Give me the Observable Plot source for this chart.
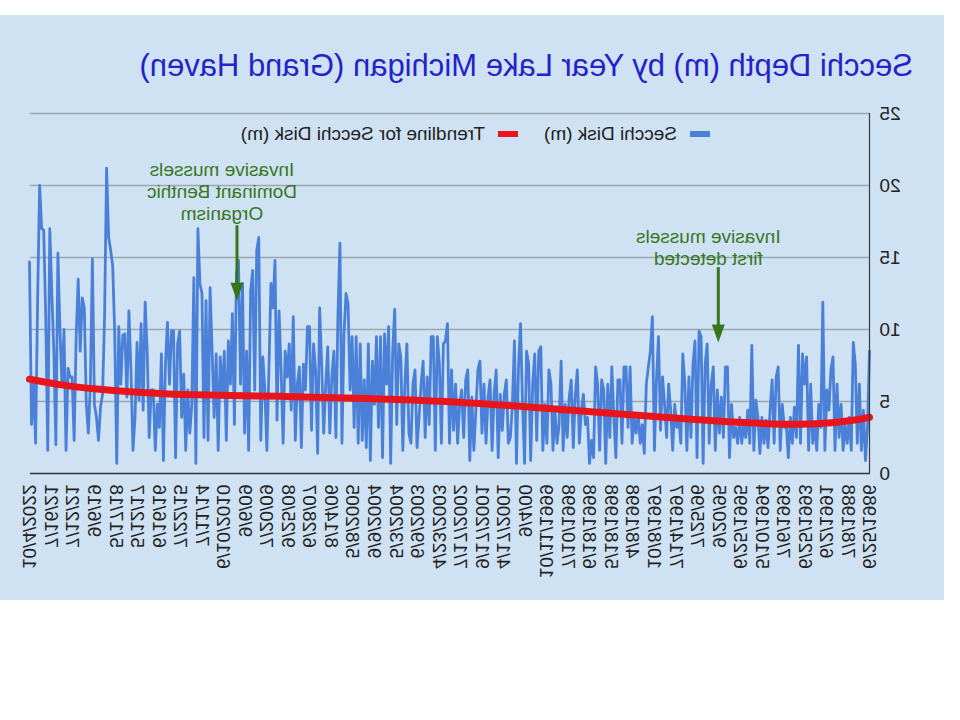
<!DOCTYPE html>
<html>
<head>
<meta charset="utf-8">
<script src="https://cdn.jsdelivr.net/npm/d3@7"></script>
<script src="https://cdn.jsdelivr.net/npm/@observablehq/plot@0.6"></script>
<style>
html, body { margin: 0; padding: 0; background: #ffffff; }
#flip { position: relative; width: 960px; height: 720px; transform: scaleX(-1); overflow: hidden; }
#bg { position: absolute; left: 16px; top: 15px; width: 944px; height: 585px; background: #cfe2f3;
      font-family: 'Liberation Sans', Arial, sans-serif; }
#chart { position: absolute; left: 0; top: 0; }
#title { position: absolute; left: 31px; top: 35px; font-size: 31px; line-height: 31px; color: #2323c8; white-space: nowrap; }
#legend { position: absolute; left: 234px; top: 107px; height: 24px; display: flex; align-items: center;
          font-size: 19px; color: #222; white-space: nowrap; }
#legend .sw { display: inline-block; width: 20px; height: 6px; margin-right: 13px; }
#legend .item { display: flex; align-items: center; margin-right: 26px; }
</style>
</head>
<body>
<div id="flip">
  <div id="bg">
    <div id="chart"></div>
    <div id="title"></div>
    <div id="legend"></div>
  </div>
</div>
<script>
// ---------- data ----------
const titleText = "Secchi Depth (m) by Year Lake Michigan (Grand Haven)";
const seriesNames = ["Secchi Disk (m)", "Trendline for Secchi Disk (m)"];
const seriesColors = ["#4a80d8", "#e8161c"];

// Secchi disk depth (m), listed newest sample first
const secchiNewestFirst = [
  14.7, 3.4, 6.2, 2.1, 12.1, 20, 17, 16.9, 10.9, 1.6, 17, 12.5, 8.5, 2, 15.3, 10, 6.2, 10, 1.6, 7.3,
  6.7, 6.7, 2.3, 9.5, 13.5, 8.5, 12.2, 11.5, 4.8, 2.8, 6.2, 14.9, 4.8, 3.9, 2.3, 4.6, 5.5, 10.9, 21.2, 16.4,
  15.5, 14.4, 9.8, 0.7, 10.2, 6.2, 9.6, 9.7, 5.3, 11.3, 7.2, 1.6, 3.9, 9.1, 5.1, 10.4, 4.4, 11.9, 8.5, 2.5,
  5.8, 5.8, 1.6, 4.8, 3.2, 8.3, 0.9, 7.6, 10.5, 6.2, 9.9, 9.9, 1.1, 9,
  9.9, 3.9, 6.9, 1.6, 5.8, 2.8, 4.8, 13.6, 0.7, 17, 13.2, 12.5, 2.5, 12, 2.3, 12.9, 8.5, 3.9, 8.3, 1.6,
  8.1, 5.3, 8.5, 2.3, 9.2, 6.2, 11.1, 3.4, 13.9, 14.8, 6.2, 13.2, 2.8, 8.5, 1.6, 12.7, 14.1, 5.8, 15.5, 16.4,
  2.3, 8.1, 5.8, 1.6, 7.2, 13.2, 11.5, 14.8, 3.7, 11.3, 7.2, 2.1, 8.5, 6.7, 9, 4.4, 10.9, 2.3, 6.2, 7.4,
  1.8, 7.6, 5.8, 10.2, 10.2, 3, 9, 7.2, 1.4, 11.5, 7.6, 2.8, 6.2, 8.8, 2.8, 6.7, 8.5, 2.5, 10.9, 16,
  2.1, 9.7, 12.5, 11.8, 5.8, 9.5, 3.2,
  9.5, 2.1, 9, 2.3, 6.5, 1.8, 9, 0.9, 7.8, 4.8, 9.5, 3.2, 9.5, 1.1, 9.7, 6.2, 10.2, 0.7, 8.5, 11.4,
  3.4, 9, 8.1, 1.6, 6.2, 9, 2.8, 2.1, 6.2, 7.2, 1.8, 3.9, 6.2, 7.8, 2.5, 6.7, 3.4, 9.5, 9.5, 1.6,
  9.5, 7.6, 2.1, 9, 9.2, 10.4, 2.1, 7.2, 3, 6.2, 2.1, 4.8, 5.8, 2.5, 6.5, 7.2, 0.9, 5.3, 1.6, 4.4,
  7.2, 7.8, 2.8, 6.2, 2.1, 5.3, 6.5, 1.6, 5.5, 7.2, 1.1, 5.5, 3, 5.5, 6.5, 2.1, 2.5, 4.8, 9.2, 0.7,
  7.4, 10.4, 4.8, 0.7, 8.5, 7.6, 0.9, 6.2,
  8.3, 2.3, 8.5, 8.8, 1.6, 4.8, 2.1, 7.2, 6.2, 1.6, 4.4, 2.1, 3.4, 7.8, 1.6, 4.8, 2.5, 5.3, 6.5, 1.8,
  5.5, 7.2, 2.1, 4.4, 5.5, 3.4, 3.9, 0.7, 2.3, 1.1, 7.4, 6.2, 1.6, 6.5, 5.8, 0.7, 6.2, 2.5, 7.4, 3.9,
  1.1, 6.5, 6.5, 2.1, 7.4, 7.4, 3.2, 7.4, 2.1, 3.9, 2.8, 4.2, 2.1, 3.4, 1.4, 6.2, 7.4, 8.5, 10.9, 1.6,
  6.5, 9.5, 3, 6.7, 4.8, 2.5, 6.2, 4.4, 1.6, 4.8, 3.2, 3.9, 2.1, 8.3, 6.2, 1.6, 6.7, 2.5, 7.6, 9.2,
  1.1, 9.9, 9.5, 0.7, 7.6,
  9, 2.1, 6.2, 7.4, 1.6, 5.8, 2.8, 5.3, 2.5, 7.4, 7.4, 1.1, 4.8, 2.5, 3.2, 2.1, 3.9, 2.1, 3.4, 2.5,
  4.4, 2.1, 8.9, 1.6, 5.1, 3.9, 1.4, 3.9, 2.1, 3.7, 1.8, 4.4, 6.5, 2.1, 6.7, 7.4, 1.6, 4.8, 3.2, 3.4,
  1.1, 3.9, 2.1, 4.6, 2.5, 8.9, 2.1, 8.3, 6.2, 8.1, 1.6, 6.2, 2.1, 3.4, 1.6, 4.8, 3.2, 11.9, 1.6, 5.8,
  4.4, 7.2, 8.1, 1.6, 6.2, 2.5, 4.8, 1.6, 3.4, 2.1, 3.9, 1.6, 9.1, 7.6, 2.1, 6.2, 1.6, 4.4, 0.9, 3.2, 8.5
];

// Trendline: position along the record (0 = first sample, 1 = last) and value (m)
const trendPos = [0, 0.015, 0.044, 0.083, 0.123, 0.163, 0.202, 0.3, 0.402, 0.5, 0.598, 0.698, 0.798, 0.84, 0.88, 0.92, 0.96, 1];
const trendVal = [3.9, 3.72, 3.5, 3.4, 3.45, 3.56, 3.72, 4.15, 4.6, 5.02, 5.22, 5.37, 5.44, 5.53, 5.67, 5.86, 6.1, 6.55];

// Category tick labels (sample dates), oldest first, evenly spaced along the record
const xLabels = ["6/25/1986","7/8/1988","6/2/1991","6/25/1993","7/6/1993","5/10/1994","6/25/1995","9/20/95","7/25/96","7/14/1997",
  "10/8/1997","4/8/1998","5/18/1998","6/18/1998","7/10/1998","10/11/1999","9/4/00","4/17/2001","9/17/2001","7/17/2002",
  "4/23/2003","6/9/2003","5/3/2004","9/9/2004","5/8/2005","8/14/06","6/28/07","9/25/08","7/20/09","9/6/09",
  "6/10/2010","7/11/14","7/22/15","6/16/16","5/12/17","5/17/18","9/6/19","7/12/21","7/16/21","10/4/2022"];
const yTicks = [0, 5, 10, 15, 20, 25];

// Annotations: position along record, arrow top / tip depth, text centre depth
const noteText = ["Invasive mussels\nfirst detected", "Invasive mussels\nDominant Benthic\nOrganism"];
const notePos = [0.180, 0.753];
const noteTop = [14.3, 17.2];
const noteTip = [9.1, 12.0];
const noteTextY = [15.76, 19.6];

// ---------- build ----------
const N = secchiNewestFirst.length;
const series = secchiNewestFirst.map((v, k) => ({i: N - 1 - k, v}));
const trend = trendPos.map((p, k) => ({i: p * (N - 1), v: trendVal[k]}));
const ticks = xLabels.map((label, k) => ({i: k * (N - 1) / (xLabels.length - 1), label}));
const notes = noteText.map((text, k) => ({i: notePos[k] * (N - 1), top: noteTop[k], tip: noteTip[k], ty: noteTextY[k], text}));

const GREEN = "#38761d";
const FONT = "'Liberation Sans', Arial, sans-serif";
const head = {draw(ctx) { ctx.moveTo(0, 0); ctx.lineTo(-6.5, -18); ctx.lineTo(6.5, -18); ctx.closePath(); }};

const chart = Plot.plot({
  width: 944, height: 585,
  marginLeft: 74, marginRight: 30, marginTop: 98, marginBottom: 127,
  style: {background: "transparent", fontFamily: FONT, fontSize: "19px", color: "#222"},
  x: {domain: [0, N - 1], axis: null},
  y: {domain: [0, 25], axis: null},
  marks: [
    Plot.gridY({ticks: yTicks.slice(1), stroke: "#9ba6b0", strokeOpacity: 1, strokeWidth: 1.3}),
    Plot.axisY({ticks: yTicks, tickSize: 0, tickPadding: 10, fontSize: 19, fill: "#222", label: null}),
    Plot.line(series, {x: "i", y: "v", stroke: seriesColors[0], strokeWidth: 2.8}),
    Plot.line(trend, {x: "i", y: "v", stroke: seriesColors[1], strokeWidth: 7, curve: "basis"}),
    Plot.ruleY([0], {stroke: "#2d3540", strokeWidth: 1.5}),
    Plot.ruleX([0], {stroke: "#3a3a3a", strokeWidth: 1.2}),
    Plot.text(ticks, {x: "i", text: "label", frameAnchor: "bottom", rotate: -90, textAnchor: "end",
      lineAnchor: "middle", dy: 11, fontSize: 19, fill: "#222"}),
    Plot.ruleX(notes, {x: "i", y1: "top", y2: "tip", stroke: GREEN, strokeWidth: 3, insetBottom: 12}),
    Plot.dot(notes, {x: "i", y: "tip", symbol: head, fill: GREEN, stroke: "none", r: 5}),
    Plot.text([notes[0]], {x: "i", y: "ty", text: "text", dx: 10, fontSize: 19, lineHeight: 1.16, fill: GREEN}),
    Plot.text([notes[1]], {x: "i", y: "ty", text: "text", dx: 15, fontSize: 19, lineHeight: 1.16, fill: GREEN})
  ]
});
document.getElementById("chart").appendChild(chart);
document.getElementById("title").textContent = titleText;

const legend = document.getElementById("legend");
seriesNames.forEach((name, k) => {
  const item = document.createElement("span");
  item.className = "item";
  const sw = document.createElement("span");
  sw.className = "sw";
  sw.style.background = seriesColors[k];
  const label = document.createElement("span");
  label.textContent = name;
  item.appendChild(sw);
  item.appendChild(label);
  legend.appendChild(item);
});
</script>
</body>
</html>
